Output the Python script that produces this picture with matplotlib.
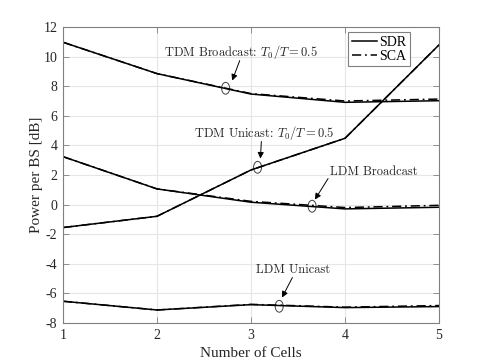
import numpy as np
import matplotlib.pyplot as plt
from matplotlib.patches import Ellipse

plt.rcParams['font.family'] = 'Liberation Serif'
plt.rcParams['mathtext.fontset'] = 'cm'

cells = [1, 2, 3, 4, 5]

tdm_bc_sdr = [10.97, 8.85, 7.47, 6.91, 7.02]
tdm_bc_sca = [10.97, 8.85, 7.50, 7.00, 7.13]
tdm_uc_sdr = [-1.55, -0.79, 2.34, 4.48, 10.79]
tdm_uc_sca = [-1.55, -0.79, 2.34, 4.48, 10.79]
ldm_bc_sdr = [3.24, 1.06, 0.16, -0.29, -0.18]
ldm_bc_sca = [3.24, 1.06, 0.22, -0.20, -0.05]
ldm_uc_sdr = [-6.53, -7.12, -6.76, -6.96, -6.89]
ldm_uc_sca = [-6.53, -7.12, -6.74, -6.93, -6.82]

fig = plt.figure(figsize=(4.85, 3.63), dpi=100)
ax = fig.add_axes([63/485, 1 - 323/363, 376/485, 296/363])

lw = 1.1
for sdr, sca in [(tdm_bc_sdr, tdm_bc_sca), (tdm_uc_sdr, tdm_uc_sca),
                 (ldm_bc_sdr, ldm_bc_sca), (ldm_uc_sdr, ldm_uc_sca)]:
    ax.plot(cells, sca, color='black', ls=(0, (6, 2.5, 1.2, 2.5)), lw=lw)
    ax.plot(cells, sdr, color='black', ls='-', lw=lw)

ax.set_xlim(1, 5)
ax.set_ylim(-8, 12)
ax.set_xticks(cells)
ax.set_yticks(np.arange(-8, 13, 2))
ax.set_yticklabels([str(v) for v in range(-8, 13, 2)])
ax.grid(True, color='#e6e6e6', lw=0.8)
ax.set_axisbelow(True)
for s in ax.spines.values():
    s.set_color('#808080')
    s.set_linewidth(0.8)
ax.tick_params(direction='in', top=True, right=True, length=4, width=0.6,
               color='#808080', labelsize=10, labelcolor='#262626', pad=4)
ax.set_xlabel('Number of Cells', fontsize=11, color='#262626', labelpad=4)
ax.set_ylabel('Power per BS [dB]', fontsize=11, color='#262626', labelpad=0)

leg_h = [plt.Line2D([], [], color='black', ls='-', lw=lw),
         plt.Line2D([], [], color='black', ls=(0, (6, 2.5, 1.2, 2.5)), lw=lw)]
leg = ax.legend(leg_h, ['SDR', 'SCA'], loc='upper right', fontsize=10,
                bbox_to_anchor=(0.923, 0.983),
                fancybox=False, edgecolor='#808080', framealpha=1,
                handlelength=1.8, borderpad=0.25, labelspacing=0.1,
                handletextpad=0.2, borderaxespad=0.0)
leg.get_frame().set_linewidth(0.8)

# text, ellipse centre, text centre, arrow start, arrow tip
annos = [
    ('TDM Broadcast: $T_0/T = 0.5$', (2.73, 7.86), (2.89, 10.34), (2.88, 9.73), (2.80, 8.38)),
    ('TDM Unicast: $T_0/T = 0.5$', (3.07, 2.52), (3.14, 4.86), (3.11, 4.26), (3.10, 3.11)),
    ('LDM Broadcast', (3.65, -0.11), (4.31, 2.23), (3.82, 1.76), (3.68, 0.34)),
    ('LDM Unicast', (3.30, -6.87), (3.45, -4.39), (3.44, -4.93), (3.33, -6.28)),
]
for txt, ell, tpos, start, tip in annos:
    ax.add_patch(Ellipse(ell, 0.085, 0.8, fill=False, ec='#404040', lw=0.7))
    ax.text(tpos[0], tpos[1], txt, fontsize=9, family='cmr10',
            ha='center', va='center', color='#262626')
    ax.annotate('', xy=tip, xytext=start,
                arrowprops=dict(arrowstyle='-|>', color='black', lw=0.7,
                                mutation_scale=9, shrinkA=0, shrinkB=0))

fig.savefig('out.png', dpi=100)
